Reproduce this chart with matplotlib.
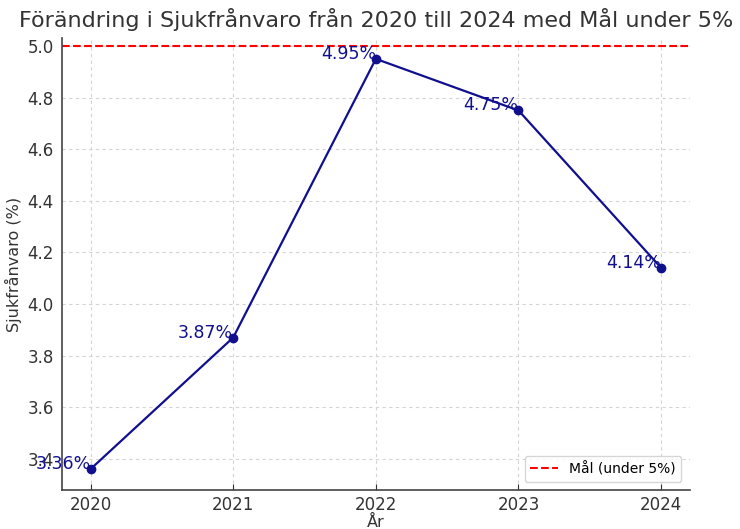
import matplotlib
matplotlib.use("Agg")
import matplotlib.pyplot as plt

years = [2020, 2021, 2022, 2023, 2024]
values = [3.36, 3.87, 4.95, 4.75, 4.14]
target = 5.0
title = "Förändring i Sjukfrånvaro från 2020 till 2024 med Mål under 5%"

fig = plt.figure(figsize=(7.4, 5.29), dpi=100)
ax = fig.add_axes([0.0838, 0.0737, 0.8482, 0.8545])

ax.plot(years, values, marker='o', color='#10108f', linewidth=1.6, markersize=6)
ax.axhline(target, color='red', linestyle='--', linewidth=1.5, label='Mål (under 5%)')
for x, y in zip(years, values):
    ax.text(x, y, f"{y:.2f}%", ha='right', va='baseline', color='#10108f', fontsize=12.5)

ax.set_xlim(2019.8, 2024.2)
ax.set_ylim(3.279, 5.031)
ax.set_xticks(years)
ax.grid(True, linestyle=(0, (3, 3)), color='#d4d4d4', linewidth=0.8)
ax.set_axisbelow(True)
for s in ['top', 'right']:
    ax.spines[s].set_visible(False)
for s in ['left', 'bottom']:
    ax.spines[s].set_color('#444444')
    ax.spines[s].set_linewidth(1.2)
ax.tick_params(colors='#333333', labelsize=12, direction='in', length=4, pad=4)
ax.tick_params(axis='y', length=0, pad=6)
ax.set_xlabel('År', fontsize=11.5, color='#333333', labelpad=1)
ax.set_ylabel('Sjukfrånvaro (%)', fontsize=11.5, color='#333333')
ax.set_title(title, fontsize=16, color='#333333', pad=8)
ax.legend(loc='lower right', fontsize=10, borderaxespad=0.6)

fig.savefig('out.png', dpi=100)
